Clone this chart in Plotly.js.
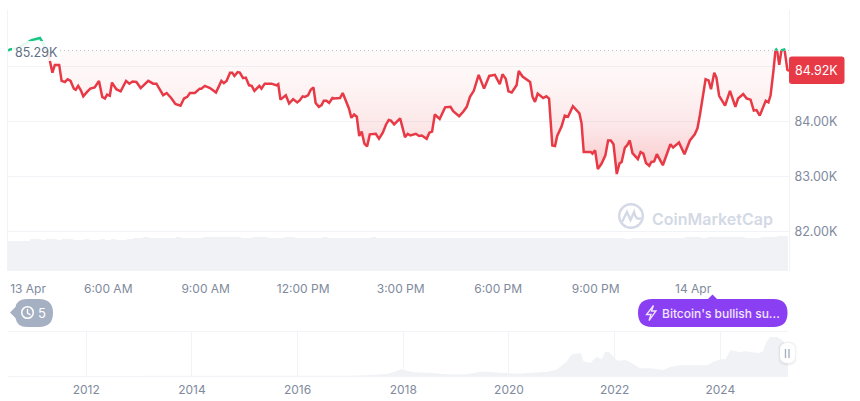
<!DOCTYPE html>
<html><head><meta charset="utf-8">
<script src="https://cdn.plot.ly/plotly-3.0.1.min.js"></script>
<style>html,body{margin:0;padding:0;background:#fff}#c{width:860px;height:401px}</style>
</head><body><div id="c"></div>
<script>
// Price, minutes after midnight on 13 Apr (thousands of USD)
const priceMinutes=[175,178.5,191,218.5,234,240,246,252,257,261.5,269.5,274,280,285,290.5,296.6,300,304.6,309.5,314,321,327,335,343,349,354,358,363,367,375,383,393,399,405,412,420,434,443,449,461.5,468,477,484,493.5,500,506,511,520,529,532,538.5,548,559,569,573.5,578.5,585,589,593,599,603,609,614,620,625,630,639,643,649,661.5,671,674,678,688,694,701.5,709,714,719,723,729,734,739,743,749,754,758,763,768,774,777,788,793,800,804.5,809,814,819,823.5,828,833,838,843,854,860,867,873,878,882,888,899,908,913,918,928,934,939,948,953,958,963,972,982,992,997,1008,1015.5,1022,1028,1035,1044,1054,1063.5,1074,1083,1088,1094,1099,1105,1114,1118,1125,1139,1143.5,1148,1153,1163,1169,1174,1180,1185,1189,1197,1203,1209,1218,1226,1230,1234,1238,1251,1254,1259,1264,1271,1278,1283,1288,1293,1299,1304,1308,1314,1318,1323,1328,1338,1343,1348,1353,1359,1363,1368,1373,1384,1395,1398,1403,1414,1424,1434,1443,1448,1452.5,1463,1468.5,1473,1479,1483,1488,1499,1508,1518,1523,1532.5,1539,1546,1552,1557,1563,1574,1579,1583,1588,1592,1593.5,1595,1599,1603,1604,1608,1609,1614,1617];
const priceK=[85.29,85.31,85.33,85.48,85.52,85.42,85.29,85.12,84.89,85.03,85.03,84.74,84.72,84.77,84.74,84.60,84.58,84.65,84.57,84.46,84.54,84.60,84.62,84.74,84.45,84.42,84.49,84.47,84.71,84.59,84.55,84.74,84.69,84.73,84.72,84.61,84.74,84.69,84.69,84.48,84.52,84.42,84.32,84.29,84.42,84.45,84.52,84.52,84.60,84.60,84.65,84.61,84.53,84.74,84.70,84.74,84.89,84.89,84.83,84.90,84.89,84.79,84.80,84.66,84.65,84.56,84.65,84.60,84.69,84.69,84.66,84.68,84.40,84.48,84.33,84.41,84.35,84.39,84.46,84.45,84.48,84.58,84.62,84.34,84.27,84.30,84.38,84.38,84.34,84.43,84.42,84.43,84.52,84.34,84.24,84.07,84.13,84.09,83.74,83.82,83.60,83.55,83.77,83.78,83.69,83.80,83.95,84.03,84.02,83.95,84.06,83.72,83.78,83.75,83.78,83.74,83.75,83.69,83.80,83.82,84.13,84.05,84.26,84.27,84.19,84.10,84.18,84.27,84.45,84.56,84.85,84.60,84.83,84.85,84.68,84.86,84.78,84.55,84.53,84.66,84.92,84.82,84.72,84.45,84.36,84.51,84.43,84.46,84.42,83.57,83.56,83.74,83.91,84.11,84.09,84.28,84.19,84.15,83.97,83.45,83.45,83.42,83.48,83.14,83.24,83.39,83.66,83.66,83.59,83.05,83.24,83.27,83.53,83.57,83.66,83.43,83.32,83.45,83.42,83.25,83.20,83.27,83.28,83.41,83.21,83.54,83.59,83.53,83.62,83.41,83.66,83.77,83.88,84.12,84.77,84.75,84.59,84.89,84.80,84.47,84.29,84.56,84.27,84.42,84.50,84.42,84.40,84.20,84.21,84.11,84.38,84.35,84.48,84.90,85.29,85.31,85.29,85.03,85.29,85.30,85.31,85.29,84.94,84.92];
const openPrice=85.29;
const lastLabel="84.92K", openLabel="85.29K";
const priceTickVals=[82,83,84,85], priceTickText=["82.00K","83.00K","84.00K",""];
const timeTickVals=[212,360,540,720,900,1080,1260,1440];
const timeTickText=["13 Apr","6:00 AM","9:00 AM","12:00 PM","3:00 PM","6:00 PM","9:00 PM","14 Apr"];
// Volume, one bar per 10 minutes (relative units)
const volume=[30,30,30,30,32,32,31,32,32,31,32,32,31,31,32,31,31,32,31,32,31,31,32,33,33.5,34,33.5,33.5,33.5,33.5,33.5,34,33.5,33.5,33.5,33.5,34,34,34,34,34,34,34,33.5,33.5,34,34,34,33.5,33,33.5,34,34,33.5,33.5,33.5,33.5,33.5,34,33.5,33.5,33,33.5,33.5,33,33,33.5,34,33.5,33,33.5,33.5,33,33,33,33,33.5,33,33,33.5,33.5,33,33,33.5,33,33.5,33,33,33.5,33,33,33,33,33.5,33,33,33,33.5,33,33,33,33,33.5,33,33,33.5,33,33,33,33.5,33.5,33,33,33.5,32,33,33.5,33.5,33,33.5,33,33.5,33.5,33.5,33.5,34,34,34,33.5,34,34.5,34,34,34.5,34,34,33.5,33.5,33.5,34,34,34.5,35,35.5];
// All-time overview (year, thousands of USD)
const historyYears=[2010.52,2013,2014,2015,2016,2017,2017.4,2017.7,2017.85,2017.95,2018.05,2018.2,2018.5,2018.9,2019.2,2019.5,2019.9,2020.2,2020.4,2020.7,2020.9,2021.0,2021.1,2021.16,2021.2,2021.36,2021.41,2021.54,2021.66,2021.76,2021.82,2021.9,2022,2022.07,2022.2,2022.29,2022.43,2022.48,2022.67,2022.92,2023.05,2023.24,2023.43,2023.56,2023.75,2023.86,2024,2024.1,2024.19,2024.28,2024.37,2024.47,2024.57,2024.72,2024.81,2024.87,2024.94,2025.07,2025.17,2025.26,2025.3];
const historyK=[0.1,0.3,0.8,0.3,0.5,1,3,5.5,12,18,15,10,8,4,5,12,8,6,9,11,17,28,40,54,59,62,40,35,52,45,66,64,47,41,43,38,27,21,21,16,24,29,29,29,29,38,45,45,70,67,65,67,65,62,67,92,105,105,97,81,85];
const yearTicks=[2012,2014,2016,2018,2020,2022,2024];

const W=860,H=401;
const fx=x=>x/W, fy=y=>1-y/H;
const P=(x,y)=>fx(x).toFixed(5)+','+fy(y).toFixed(5);
function rr(x0,y0,x1,y1,r){return 'M'+P(x0+r,y0)+' L'+P(x1-r,y0)+' Q'+P(x1,y0)+' '+P(x1,y0+r)+' L'+P(x1,y1-r)+' Q'+P(x1,y1)+' '+P(x1-r,y1)+' L'+P(x0+r,y1)+' Q'+P(x0,y1)+' '+P(x0,y1-r)+' L'+P(x0,y0+r)+' Q'+P(x0,y0)+' '+P(x0+r,y0)+' Z';}
const shp=(path,fill,line,lw)=>({type:'path',xref:'paper',yref:'paper',path,fillcolor:fill||'rgba(0,0,0,0)',line:{color:line||'rgba(0,0,0,0)',width:lw||0}});
const txt=(t,x,y,size,color,extra)=>Object.assign({text:t,xref:'paper',yref:'paper',x:fx(x),y:fy(y),xanchor:'center',yanchor:'middle',showarrow:false,font:{family:'Inter, sans-serif',size,color}},extra||{});
function circ(cx,cy,r,line,lw,fill){return {type:'circle',xref:'paper',yref:'paper',x0:fx(cx-r),x1:fx(cx+r),y0:fy(cy+r),y1:fy(cy-r),line:{color:line,width:lw},fillcolor:fill||'rgba(0,0,0,0)'};}

const RED='#e83a46',GREEN='#16c784',VOL='#f0f2f5',GRID='#f1f3f6',TICK='#808a9d',LOGO='#d3d9e5';
const xs=priceMinutes, ys=priceK;
const base=xs.map(()=>openPrice);
const barX=volume.map((_,i)=>180+i*10);

const traces=[
 {x:xs,y:base,mode:'lines',line:{width:0},hoverinfo:'skip',xaxis:'x',yaxis:'y'},
 {x:xs,y:ys.map(v=>Math.min(v,openPrice)),mode:'lines',line:{width:0},fill:'tonexty',
  fillgradient:{type:'vertical',start:83.0,stop:openPrice,colorscale:[[0,'rgba(234,57,67,0.30)'],[0.4,'rgba(234,57,67,0.12)'],[0.75,'rgba(234,57,67,0.05)'],[1,'rgba(234,57,67,0.02)']]},hoverinfo:'skip',xaxis:'x',yaxis:'y'},
 {x:xs,y:base,mode:'lines',line:{width:0},hoverinfo:'skip',xaxis:'x',yaxis:'y'},
 {x:xs,y:ys.map(v=>Math.max(v,openPrice)),mode:'lines',line:{width:0},fill:'tonexty',fillcolor:'rgba(22,199,132,0.10)',hoverinfo:'skip',xaxis:'x',yaxis:'y'},
 {x:[271,xs[xs.length-1]],y:[openPrice,openPrice],mode:'lines',line:{color:'#b4bac6',width:1,dash:'1px,3px'},hoverinfo:'skip',xaxis:'x',yaxis:'y'},
 {x:xs,y:ys.map(v=>v<=openPrice?v:null),mode:'lines',line:{color:RED,width:2.5},connectgaps:false,xaxis:'x',yaxis:'y'},
 {x:xs,y:ys.map(v=>v>=openPrice?v:null),mode:'lines',line:{color:GREEN,width:2.5},connectgaps:false,xaxis:'x',yaxis:'y'},
 {type:'bar',x:barX,y:volume,width:10,marker:{color:VOL,line:{width:0}},xaxis:'x',yaxis:'y2'},
 {x:historyYears,y:historyK,mode:'lines',line:{width:0},fill:'tozeroy',fillcolor:VOL,xaxis:'x3',yaxis:'y3'}
];

const layout={
 width:W,height:H,margin:{l:0,r:0,t:0,b:0},paper_bgcolor:'#fff',plot_bgcolor:'rgba(0,0,0,0)',showlegend:false,
 font:{family:'Inter, sans-serif',size:12,color:TICK},
 xaxis:{domain:[fx(8),fx(789)],range:[175,1617],tickmode:'array',tickvals:timeTickVals,ticktext:timeTickText,ticks:'',showgrid:false,zeroline:false,showline:false,anchor:'y',tickfont:{size:12,color:TICK},ticklabelstandoff:9},
 yaxis:{domain:[fy(271),fy(10)],range:[81.29,86.027],side:'right',anchor:'x',tickmode:'array',tickvals:priceTickVals,ticktext:priceTickText,ticks:'',showgrid:true,gridcolor:GRID,gridwidth:1,zeroline:false,showline:true,linecolor:GRID,mirror:true,tickfont:{size:12.5,color:TICK},ticklabelstandoff:2},
 yaxis2:{domain:[fy(271),fy(231)],range:[0,40],visible:false,anchor:'x'},
 xaxis3:{domain:[fx(8),fx(788)],range:[2010.52,2025.28],anchor:'y3',tickmode:'array',tickvals:yearTicks,ticktext:yearTicks.map(String),ticks:'',showgrid:true,gridcolor:GRID,zeroline:false,showline:true,linecolor:GRID,mirror:true,tickfont:{size:12,color:TICK},ticklabelstandoff:3},
 yaxis3:{domain:[fy(376),fy(332)],range:[0,118.8],visible:false,anchor:'x3'},
 bargap:0,
 shapes:[
  // soft white panel behind the opening-price label
  shp(rr(12,41,60,61,2),'rgba(255,255,255,0.88)'),
  shp(rr(789,56.5,844.5,84,3),RED),
  // history pill
  shp('M'+P(10,312.5)+' L'+P(15.5,307)+' Q'+P(17,299)+' '+P(27,299)+' L'+P(39,299)+' Q'+P(53,299)+' '+P(53,313)+' Q'+P(53,327)+' '+P(39,327)+' L'+P(27,327)+' Q'+P(17,327)+' '+P(15.5,318)+' Z','#a6b0c3'),
  circ(27.5,312.5,5.8,'#fff',1.5),
  shp('M'+P(27.5,309)+' L'+P(27.5,313)+' L'+P(30.5,315),null,'#fff',1.4),
  // event pill
  shp('M'+P(708,299)+' L'+P(712.5,294.5)+' L'+P(717,299)+' Z','#8b3ff3'),
  shp(rr(638,299,787.5,327,14),'#8b3ff3'),
  shp('M'+P(653.5,305.5)+' L'+P(646.5,314.5)+' L'+P(651,314.5)+' L'+P(649,320.5)+' L'+P(656,311)+' L'+P(651.5,311)+' Z',null,'#eee3ff',1.3),
  // overview handle
  shp(rr(778,341,797,366,8),'rgba(0,0,0,0.025)'),
  shp(rr(779,342,796,365,8),'rgba(0,0,0,0.035)'),
  shp(rr(780,343,795,363,7),'#fff'),
  shp('M'+P(785.5,349)+' L'+P(785.5,358)+' M'+P(789,349)+' L'+P(789,358),null,'#a6b0c3',1.4),
  // watermark
  circ(631,216,11.8,LOGO,2.4),
  shp('M'+P(622,222)+' L'+P(627,212)+' L'+P(630.5,220)+' L'+P(634,212)+' Q'+P(636,221)+' '+P(641,218),null,LOGO,2.4)
 ],
 annotations:[
  txt(openLabel,36.5,52.5,12.5,'#616e85'),
  txt(lastLabel,816.5,70,12.5,'#ffffff'),
  txt('5',42,313,13,'#ffffff'),
  txt("Bitcoin's bullish su...",720.5,313,12,'#f0e6ff',{font:{family:'Inter, sans-serif',size:12,color:'#f0e6ff',weight:500}}),
  txt('CoinMarketCap',712,219,16,LOGO,{font:{family:'Inter, sans-serif',size:16,color:LOGO,weight:600}})
 ]
};
Plotly.newPlot('c',traces,layout,{displayModeBar:false,staticPlot:true});
</script></body></html>
